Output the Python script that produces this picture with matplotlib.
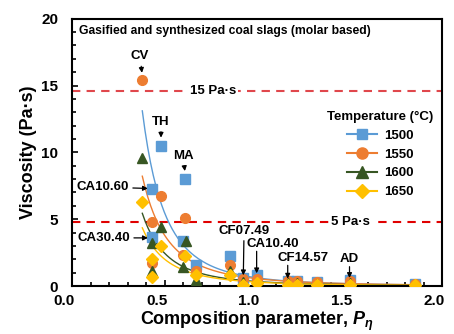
import numpy as np
import matplotlib
matplotlib.use('Agg')
import matplotlib.pyplot as plt
import matplotlib.transforms as mtransforms

plt.rcParams['font.family'] = ['Liberation Sans', 'DejaVu Sans']
plt.rcParams['font.weight'] = 'bold'
plt.rcParams['axes.labelweight'] = 'bold'
plt.rcParams['mathtext.fontset'] = 'custom'
plt.rcParams['mathtext.it'] = 'Liberation Sans:bold:italic'
plt.rcParams['mathtext.rm'] = 'Liberation Sans:bold'

# viscosity data (Pa.s), one list per temperature
temps = ['1500', '1550', '1600', '1650']
x_1500 = [0.48, 0.61, 0.434, 0.434, 0.598, 0.67, 0.855, 0.926, 1.0, 1.166, 1.218, 1.326, 1.5, 1.854]
y_1500 = [10.5, 8.0, 7.24, 3.7, 3.36, 1.6, 2.26, 0.62, 0.8, 0.4, 0.4, 0.3, 0.45, 0.15]
x_1550 = [0.378, 0.48, 0.61, 0.434, 0.434, 0.598, 0.67, 0.855, 0.926, 1.0, 1.166, 1.218, 1.326, 1.5, 1.854]
y_1550 = [15.4, 6.74, 5.1, 4.76, 1.7, 2.33, 1.1, 1.58, 0.55, 0.55, 0.37, 0.35, 0.28, 0.35, 0.13]
x_1600 = [0.378, 0.48, 0.616, 0.434, 0.434, 0.598, 0.67, 0.855, 0.926, 1.0, 1.166, 1.218, 1.326, 1.5, 1.854]
y_1600 = [9.6, 4.43, 3.33, 3.2, 1.1, 1.4, 0.45, 1.15, 0.3, 0.08, 0.2, 0.2, 0.15, 0.2, 0.1]
x_1650 = [0.378, 0.48, 0.61, 0.434, 0.434, 0.67, 0.855, 0.926, 1.0, 1.166, 1.218, 1.326, 1.5, 1.854]
y_1650 = [6.25, 3.03, 2.24, 2.0, 0.7, 0.8, 0.83, 0.1, 0.2, 0.1, 0.1, 0.08, 0.05, 0.08]

# power-law trend lines y = a * x^b, coefficients
fit_a = [0.61, 0.547, 0.332, 0.287]
fit_b = [-3.17, -2.8, -2.89, -2.81]
fit_x0, fit_x1 = 0.38, 1.85

colors = ['#5B9BD5', '#ED7D31', '#375623', '#FFC000']
markers = ['s', 'o', '^', 'D']
msizes = [6.5, 7, 7, 6]

fig = plt.figure(figsize=(4.54, 3.34), dpi=100)
ax = fig.add_axes([0.1586, 0.1437, 0.815, 0.8003])

xs = [x_1500, x_1550, x_1600, x_1650]
ys = [y_1500, y_1550, y_1600, y_1650]
xf = np.linspace(fit_x0, fit_x1, 200)
for i in range(4):
    ax.plot(xf, fit_a[i] * xf ** fit_b[i], color=colors[i], lw=1.0, zorder=2)
    ax.plot(xs[i], ys[i], linestyle='none', marker=markers[i], ms=msizes[i],
            color=colors[i], zorder=3)

# legend entries drawn as line + marker
handles = []
for i in range(4):
    h, = ax.plot([], [], color=colors[i], lw=1.5, marker=markers[i], ms=msizes[i] + 1)
    handles.append(h)
leg = ax.legend(handles, temps, title='Temperature (\u00b0C)', frameon=False,
                loc='upper left', bbox_to_anchor=(0.675, 0.675), fontsize=9.5,
                title_fontsize=9.5, handlelength=2.3, labelspacing=0.5,
                borderaxespad=0, handletextpad=0.5)
leg.get_title().set_fontweight('bold')

# reference lines
ax.axhline(14.6, color='#E0474C', ls=(0, (4, 3)), lw=1.5, zorder=1)
ax.axhline(4.8, color='#E00000', ls=(0, (4, 3)), lw=1.5, zorder=1)
ax.text(0.762, 14.6, '15 Pa\u00b7s', ha='center', va='center', fontsize=9.5,
        bbox=dict(facecolor='white', edgecolor='none', pad=1.5), zorder=4)
ax.text(1.503, 4.8, '5 Pa\u00b7s', ha='center', va='center', fontsize=9.5,
        bbox=dict(facecolor='white', edgecolor='none', pad=1.5), zorder=4)

ax.text(0.038, 19.1, 'Gasified and synthesized coal slags (molar based)',
        ha='left', va='center', fontsize=8.7)

arr = dict(arrowstyle='-|>', color='k', lw=0.9, mutation_scale=7, shrinkA=1, shrinkB=0)
ax.annotate('CV', xy=(0.378, 15.95), xytext=(0.368, 17.2), ha='center', va='center',
            fontsize=9.5, arrowprops=arr)
ax.annotate('TH', xy=(0.481, 11.1), xytext=(0.481, 12.3), ha='center', va='center',
            fontsize=9.5, arrowprops=arr)
ax.annotate('MA', xy=(0.61, 8.6), xytext=(0.6, 9.75), ha='center', va='center',
            fontsize=9.5, arrowprops=arr)
ax.annotate('CA10.60', xy=(0.41, 7.3), xytext=(0.165, 7.4), ha='center', va='center',
            fontsize=9.5, arrowprops=arr)
ax.annotate('CA30.40', xy=(0.41, 3.6), xytext=(0.17, 3.6), ha='center', va='center',
            fontsize=9.5, arrowprops=arr)
ax.annotate('CF07.49', xy=(0.926, 0.8), xytext=(0.93, 4.15), ha='center', va='center',
            fontsize=9.5, arrowprops=arr)
ax.text(1.086, 3.15, 'CA10.40', ha='center', va='center', fontsize=9.5)
ax.annotate('', xy=(0.998, 0.95), xytext=(0.998, 2.7), arrowprops=arr)
ax.text(1.249, 2.13, 'CF14.57', ha='center', va='center', fontsize=9.5)
ax.annotate('', xy=(1.166, 0.55), xytext=(1.166, 1.65), arrowprops=arr)
ax.text(1.497, 2.05, 'AD', ha='center', va='center', fontsize=9.5)
ax.annotate('', xy=(1.5, 0.6), xytext=(1.5, 1.55), arrowprops=arr)

ax.set_xlim(0, 2)
ax.set_ylim(0, 20)
ax.set_xticks([0, 0.5, 1.0, 1.5, 2.0])
ax.set_xticklabels(['0.0', '0.5', '1.0', '1.5', '2.0'])
ax.set_yticks([0, 5, 10, 15, 20])
ax.set_xticks(np.arange(0, 2.01, 0.1), minor=True)
ax.set_yticks(np.arange(0, 20.1, 1), minor=True)
ax.tick_params(which='both', direction='in', labelsize=11, width=1.2)
ax.tick_params(which='major', length=4)
ax.tick_params(which='minor', length=3)
ax.tick_params(axis='x', pad=6)
ax.tick_params(axis='y', pad=10)
for lab in ax.get_xticklabels() + ax.get_yticklabels():
    lab.set_fontweight('bold')
# x labels sit a little left of their ticks in the original
shift = mtransforms.ScaledTranslation(-8 / 100, 0, fig.dpi_scale_trans)
for lab in ax.get_xticklabels():
    lab.set_transform(lab.get_transform() + shift)
for s in ax.spines.values():
    s.set_linewidth(1.5)
ax.set_xlabel('Composition parameter, $P_\\eta$', fontsize=13, labelpad=1)
ax.set_ylabel('Viscosity (Pa\u00b7s)', fontsize=13, labelpad=3)

fig.savefig('out.png', dpi=100)
